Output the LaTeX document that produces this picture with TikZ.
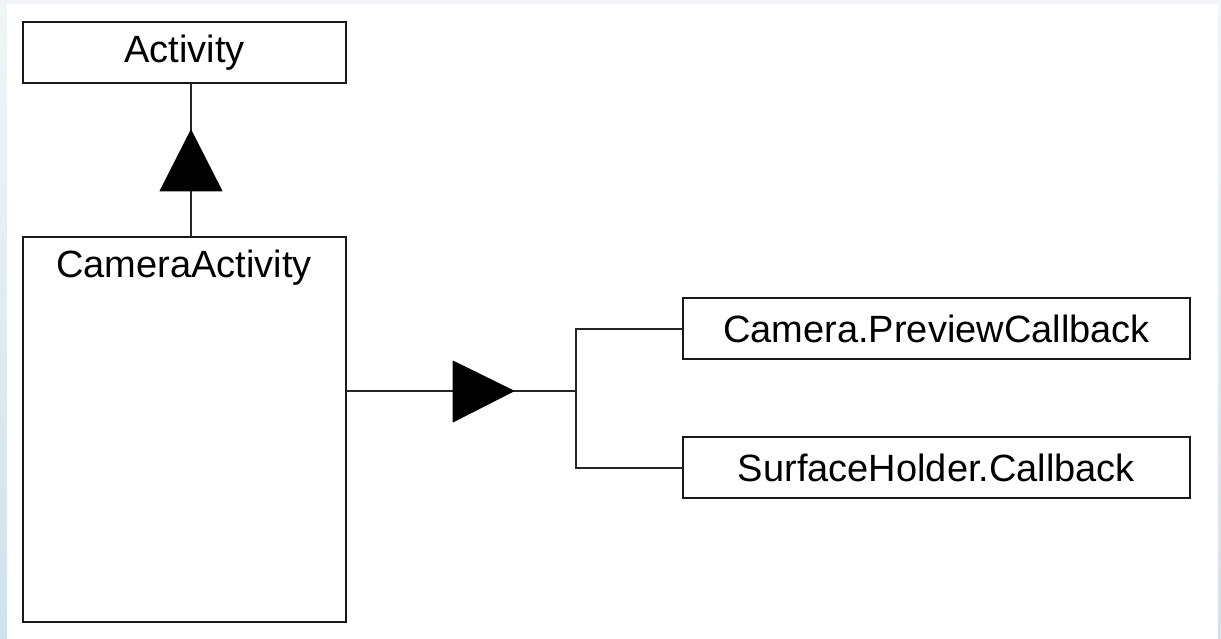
\documentclass[tikz,border=0pt]{standalone}
\usepackage{fontspec}
\setmainfont{Liberation Sans}
\usetikzlibrary{calc}
\definecolor{frametop}{HTML}{F1F5F7}
\definecolor{framebot}{HTML}{CFE2EA}
\begin{document}
\begin{tikzpicture}[x=1pt,y=-1pt,
  classbox/.style={draw=black!90, line width=2pt, fill=white, minimum height=61pt, inner sep=0pt, outer sep=0pt},
  label/.style={font=\fontsize{38}{44}\selectfont, inner sep=0pt},
  wire/.style={draw=black!85, line width=2pt},
  tri/.style={fill=black, draw=black, line width=0.8pt, line join=round}]
  % page and frame
  \useasboundingbox (0,0) rectangle (1221,639);
  \shade[top color=frametop, bottom color=framebot] (0,0) rectangle (1221,639);
  \fill[white] (7,4) rectangle (1218,639);

  % classes
  \node[classbox, minimum width=323pt, anchor=north west] (act) at (23,22) {};
  \node[label] at (act.center) {Activity};
  \node[classbox, minimum width=323pt, minimum height=385pt, anchor=north west] (cam) at (23,237) {};
  \node[label] at (184,268) {CameraActivity};
  \node[classbox, minimum width=507pt, anchor=north west] (prev) at (683,298) {};
  \node[label] at (prev.center) {Camera.PreviewCallback};
  \node[classbox, minimum width=507pt, anchor=north west] (surf) at (683,437) {};
  \node[label] at (surf.center) {SurfaceHolder.Callback};

  % inheritance
  \coordinate (inh) at (191,0);
  \draw[wire] (inh |- cam.north) -- (inh |- act.south);
  \filldraw[tri] (191,130) -- (222,191) -- (160,191) -- cycle;

  % interfaces
  \coordinate (fork) at (576,391);
  \draw[wire] (cam.east |- fork) -- (fork);
  \draw[wire] (prev.west) -| (fork) |- (surf.west);
  \filldraw[tri] (453,361) -- (514,391) -- (453,422) -- cycle;
\end{tikzpicture}
\end{document}
